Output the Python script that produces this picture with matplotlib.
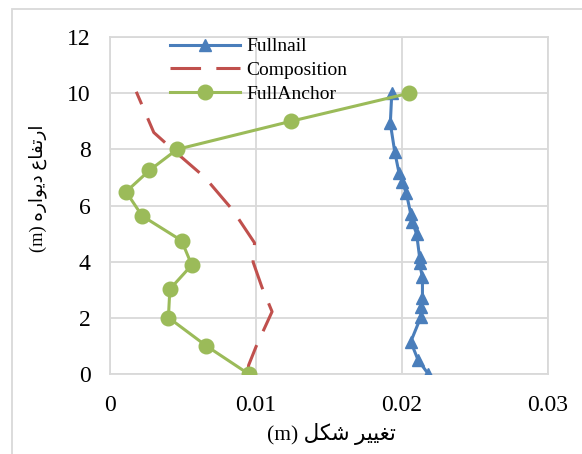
import matplotlib
matplotlib.use("Agg")
import matplotlib.pyplot as plt
from matplotlib.patches import Rectangle

# ---- data ----
fullnail_x = [0.0218, 0.0211, 0.0206, 0.0213, 0.0213, 0.0214, 0.0214, 0.0212, 0.0212,
              0.0210, 0.0207, 0.0206, 0.0203, 0.0200, 0.0198, 0.0195, 0.0192, 0.0193]
fullnail_y = [0.0, 0.5, 1.15, 2.04, 2.40, 2.69, 3.44, 3.94, 4.18,
              4.99, 5.42, 5.70, 6.43, 6.85, 7.15, 7.92, 8.93, 10.0]

comp_x = [0.0094, 0.0095, 0.0100, 0.0111, 0.0104, 0.0098, 0.0099, 0.0084, 0.0065, 0.0045, 0.0030, 0.0018]
comp_y = [0.0, 0.32, 0.97, 2.22, 3.10, 3.99, 4.67, 5.84, 7.0, 7.9, 8.6, 10.05]

anchor_x = [0.0095, 0.0066, 0.0040, 0.0041, 0.0056, 0.0049, 0.0022, 0.0011, 0.0027, 0.0046, 0.0124, 0.0205]
anchor_y = [0.0, 1.0, 2.01, 3.02, 3.88, 4.75, 5.63, 6.49, 7.25, 8.0, 9.0, 10.0]

series_names = ["Fullnail", "Composition", "FullAnchor"]
x_ticks = [0, 0.01, 0.02, 0.03]
x_tick_labels = ["0", "0.01", "0.02", "0.03"]
y_ticks = [0, 2, 4, 6, 8, 10, 12]

# Persian labels written with Arabic presentation forms in visual order
# x: "تغییر شکل (m)"   y: "ارتفاع دیواره (m)"
x_label = "(m) " + "\uFEDE\uFB91\uFEB7" + " " + "\uFEAE\uFBFF\uFBFF\uFED0\uFE97"
y_label = "(m) " + "\uFEE9\uFEAD\uFE8D\uFEEE\uFBFE\uFEA9" + " " + "\uFEC9\uFE8E\uFED4\uFE97\uFEAD\uFE8D"

plt.rcParams['font.family'] = ['Liberation Serif', 'DejaVu Sans']

W, H = 582, 454
fig = plt.figure(figsize=(W / 100, H / 100), dpi=100)
ax = fig.add_axes([110 / W, 1 - 374 / H, 438 / W, 337 / H])

grey = "#d9d9d9"
fig.patches.append(Rectangle((12 / W, -0.1), 1.2, (1 - 9 / H) + 0.1, transform=fig.transFigure,
                             fill=False, edgecolor=grey, linewidth=1.3))

l1, = ax.plot(fullnail_x, fullnail_y, color="#4A7EBB", lw=2.2, marker="^", markersize=9,
              label=series_names[0], zorder=3)
l2, = ax.plot(comp_x, comp_y, color="#C0504D", lw=2.2, dashes=(10, 5), label=series_names[1], zorder=2)
l3, = ax.plot(anchor_x, anchor_y, color="#9BBB59", lw=2.2, marker="o", markersize=10.5,
              label=series_names[2], zorder=4)

ax.set_xlim(0, 0.03)
ax.set_ylim(0, 12)
ax.set_xticks(x_ticks)
ax.set_xticklabels(x_tick_labels)
ax.set_yticks(y_ticks)
ax.grid(True, color=grey, lw=1.3)
ax.set_axisbelow(True)
for s in ax.spines.values():
    s.set_color(grey)
    s.set_linewidth(1.3)
ax.tick_params(length=0, labelsize=17, colors="black")
ax.tick_params(axis="x", pad=15)
ax.tick_params(axis="y", pad=14)

ax.set_xlabel(x_label, fontsize=15.5)
ax.set_ylabel(y_label, fontsize=13.2)
ax.xaxis.set_label_coords((331 - 110) / 438, -(423 - 374) / 337)
ax.yaxis.set_label_coords(-(110 - 47) / 438, (374 - 188) / 337)

fig.legend(handles=[l1, l2, l3], loc="upper left", bbox_to_anchor=(160 / W, 1 - 28 / H),
           bbox_transform=fig.transFigure, frameon=False, fontsize=14, borderpad=0,
           handlelength=3.6, handletextpad=0.35, labelspacing=0.32)

fig.savefig("out.png", dpi=100)
